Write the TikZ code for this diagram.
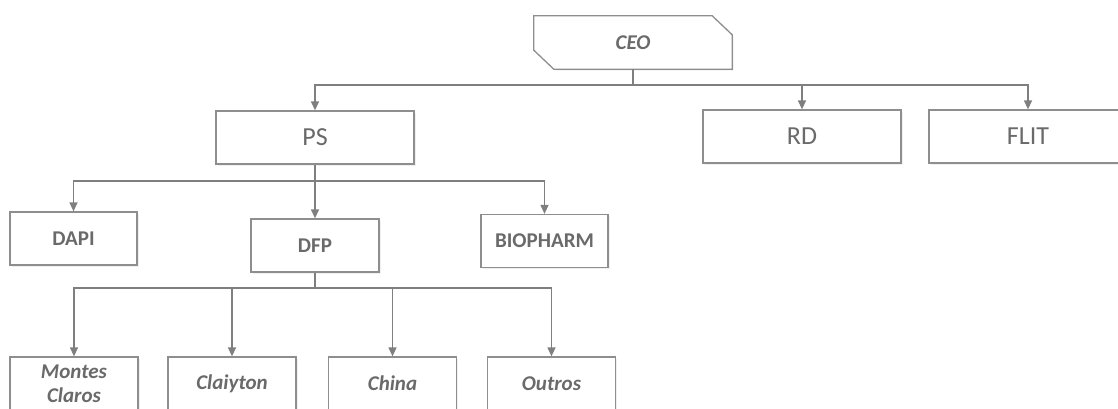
\documentclass[tikz,border=0pt]{standalone}
\usepackage{fontspec}
\setmainfont{Carlito}
\usetikzlibrary{arrows.meta,calc,shadows}
\definecolor{linegray}{HTML}{7F7F7F}
\definecolor{boxgray}{HTML}{8E8E8E}
\definecolor{textgray}{HTML}{6A6A6A}
\begin{document}
\begin{tikzpicture}[x=1pt,y=-1pt,
  box/.style={draw=boxgray, line width=1.3pt, fill=white, text=textgray,
    minimum height=53pt, inner sep=0pt, align=center,
    drop shadow={opacity=0.12, shadow xshift=1.5pt, shadow yshift=-1.5pt}},
  topbox/.style={box, minimum width=198pt, font=\fontsize{26}{30}\selectfont},
  midbox/.style={box, minimum width=127pt, font=\fontsize{21}{24}\selectfont\bfseries},
  lowbox/.style={box, minimum width=128pt, font=\fontsize{21}{24}\selectfont\bfseries\itshape},
  conn/.style={draw=linegray, line width=1.3pt},
  arr/.style={conn, -{Triangle[width=8pt,length=9pt]}}
]
\useasboundingbox (0,0) rectangle (1118,408);
\clip (0,0) rectangle (1118,408);

% top of the chart
\node[text=textgray, font=\fontsize{21}{24}\selectfont\bfseries\itshape,
      minimum width=198pt, minimum height=53pt, inner sep=0pt] (ceo) at (633,42.5) {CEO};
\fill[gray, opacity=0.12] ($(ceo.north west)+(1.5,1.5)$) -- ($(ceo.north east)+(-18.5,1.5)$)
  -- ($(ceo.north east)+(1.5,20.5)$) -- ($(ceo.south east)+(1.5,1.5)$)
  -- ($(ceo.south west)+(21.5,1.5)$) -- ($(ceo.south west)+(1.5,-17.5)$) -- cycle;
\draw[draw=boxgray, line width=1.3pt, fill=white]
  (ceo.north west) -- ($(ceo.north east)+(-20,0)$) -- ($(ceo.north east)+(0,19)$)
  -- (ceo.south east) -- ($(ceo.south west)+(20,0)$) -- ($(ceo.south west)+(0,-19)$) -- cycle;
\node[text=textgray, font=\fontsize{21}{24}\selectfont\bfseries\itshape] at (ceo) {CEO};

% second level
\node[topbox] (ps)   at (315,137.5) {PS};
\node[topbox] (rd)   at (802,136.5) {RD};
\node[topbox] (flit) at (1028,136.5) {FLIT};

% third level
\node[midbox] (dapi) at (73.5,238.5) {DAPI};
\node[midbox, minimum width=128pt] (dfp) at (315,245.5) {DFP};
\node[midbox] (bio)  at (544.5,241) {BIOPHARM};

% fourth level
\node[lowbox] (mc)    at (74,383.5)    {Montes\\Claros};
\node[lowbox] (clai)  at (232,383.5)   {Claiyton};
\node[lowbox] (china) at (392.5,383.5) {China};
\node[lowbox] (out)   at (551.5,383.5) {Outros};

% connectors
\coordinate (busA) at (633,85);
\draw[conn] (ceo.south) -- (busA);
\draw[arr] (busA) -| (ps.north);
\draw[arr] (busA) -| (rd.north);
\draw[arr] (busA) -| (flit.north);

\coordinate (busB) at (315,181);
\draw[conn] (ps.south) -- (busB);
\draw[arr] (busB) -| (dapi.north);
\draw[arr] (busB) -- (dfp.north);
\draw[arr] (busB) -| (bio.north);

\coordinate (busC) at (315,288);
\draw[conn] (dfp.south) -- (busC);
\draw[arr] (busC) -| (mc.north);
\draw[arr] (busC) -| (clai.north);
\draw[arr] (busC) -| (china.north);
\draw[arr] (busC) -| (out.north);
\end{tikzpicture}
\end{document}
